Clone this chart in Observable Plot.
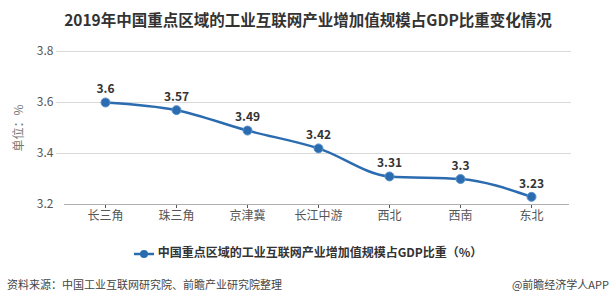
<!DOCTYPE html>
<html>
<head>
<meta charset="utf-8">
<script src="https://cdn.jsdelivr.net/npm/d3@7"></script>
<script src="https://cdn.jsdelivr.net/npm/@observablehq/plot@0.6"></script>
<style>
  html, body { margin: 0; padding: 0; background: #fff; }
  body { width: 616px; height: 304px; position: relative; overflow: hidden;
         font-family: "Noto Sans CJK SC", "Noto Sans", sans-serif; }
  #title { position: absolute; left: 0; width: 616px; top: 8px; text-align: center;
           font-size: 15.5px; font-weight: bold; color: #333; line-height: 22px; }
  #chart { position: absolute; left: 0; top: 40px; }
  #ylabel { position: absolute; left: 17px; top: 128px; transform: translate(-50%, -50%) rotate(-90deg);
            font-size: 12px; color: #777; white-space: nowrap; }
  #legend { position: absolute; top: 243px; left: 0; width: 616px; text-align: center;
            font-size: 12px; font-weight: bold; color: #333; line-height: 18px; }
  #legend svg { vertical-align: middle; margin-right: 4px; }
  #source { position: absolute; left: 7px; top: 276px; font-size: 11px; color: #444; line-height: 16px; }
  #brand { position: absolute; right: 7px; top: 276px; font-size: 11px; color: #444; line-height: 16px; }
</style>
</head>
<body>
<div id="title">2019年中国重点区域的工业互联网产业增加值规模占GDP比重变化情况</div>
<div id="chart"></div>
<div id="ylabel">单位：%</div>
<div id="legend"><svg width="20" height="10"><line x1="0" y1="5" x2="20" y2="5" stroke="#2b6cb0" stroke-width="2.5"/><circle cx="10" cy="5" r="4" fill="#2b6cb0"/></svg>中国重点区域的工业互联网产业增加值规模占GDP比重（%）</div>
<div id="source">资料来源：中国工业互联网研究院、前瞻产业研究院整理</div>
<div id="brand">@前瞻经济学人APP</div>
<script>
const regions = ["长三角", "珠三角", "京津冀", "长江中游", "西北", "西南", "东北"];
const shares = [3.6, 3.57, 3.49, 3.42, 3.31, 3.3, 3.23];
const yTicks = [3.2, 3.4, 3.6, 3.8];

const color = "#2b6cb0";
const data = regions.map((r, i) => ({region: r, value: shares[i]}));

const chart = Plot.plot({
  width: 616,
  height: 190,
  marginTop: 11,
  marginBottom: 26,
  marginLeft: 68,
  marginRight: 49,
  style: {fontFamily: "'Noto Sans CJK SC', 'Noto Sans', sans-serif", fontSize: "12px", color: "#555", background: "transparent"},
  x: {type: "point", domain: regions, padding: 0.5, label: null, tickSize: 4, tickPadding: 3},
  y: {domain: [3.2, 3.8], ticks: yTicks, tickFormat: d => d.toFixed(1), tickSize: 0, tickPadding: 15, label: null},
  marks: [
    Plot.ruleY(yTicks.slice(1), {stroke: "#d9d9d9", insetLeft: -12, insetRight: -4}),
    Plot.ruleY([yTicks[0]], {stroke: "#b0b0b0", insetLeft: -4, insetRight: -2}),
    Plot.line(data, {x: "region", y: "value", curve: "monotone-x", stroke: color, strokeWidth: 2.5}),
    Plot.dot(data, {x: "region", y: "value", r: 4.5, fill: color, stroke: "#5b93cc", strokeWidth: 1}),
    Plot.text(data, {x: "region", y: "value", text: d => String(d.value), dy: -13, fontWeight: "bold", fontSize: 12, fill: "#333"})
  ]
});
document.getElementById("chart").appendChild(chart);
</script>
</body>
</html>
